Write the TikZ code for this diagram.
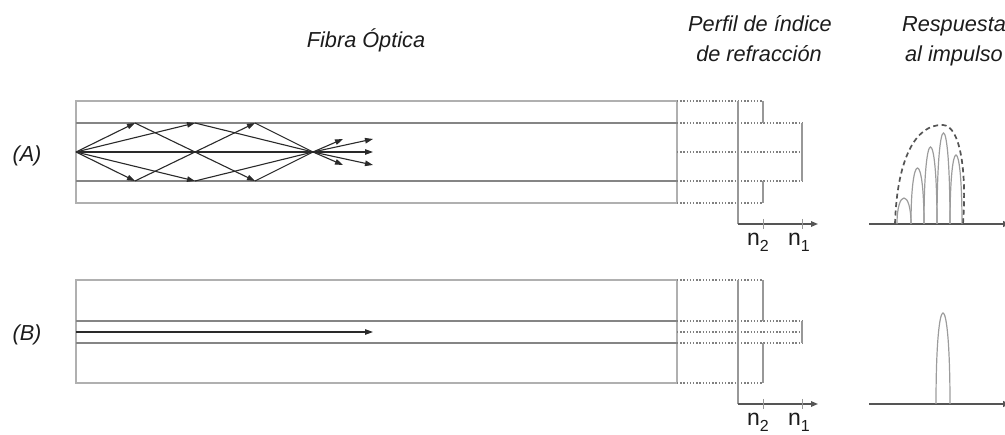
\documentclass[tikz,border=0pt]{standalone}
\usepackage{fontspec}
\setmainfont{Liberation Sans}
\usetikzlibrary{arrows.meta}
\definecolor{cladln}{HTML}{B0B0B0}
\definecolor{coreln}{HTML}{858585}
\definecolor{rayln}{HTML}{2A2A2A}
\definecolor{profln}{HTML}{989898}
\definecolor{dotln}{HTML}{808080}
\definecolor{axisln}{HTML}{555555}
\definecolor{pulseln}{HTML}{9C9C9C}
\definecolor{txt}{HTML}{1C1C1C}
\tikzset{
  clad/.style={draw=cladln, line width=1.3},
  corel/.style={draw=coreln, line width=1.6},
  ray/.style={draw=rayln, line width=1.1},
  rayarr/.style={ray, -{Triangle[length=8pt,width=5.5pt]}},
  dotl/.style={draw=dotln, line width=1.4, dash pattern=on 1.3pt off 1.9pt},
  profl/.style={draw=profln, line width=1.1},
  axisv/.style={draw=profln, line width=1.2},
  axish/.style={draw=axisln, line width=1.4, -{Triangle[length=7pt,width=5.5pt]}},
  tick/.style={draw=profln, line width=1},
  base/.style={draw=axisln, line width=2.1, -{Triangle[length=6pt,width=6pt]}},
  pulse/.style={draw=pulseln, line width=1.2},
  envel/.style={draw=axisln, line width=1.7, dash pattern=on 5pt off 3.5pt},
  title/.style={font=\fontsize{21.7}{26}\selectfont\itshape, text=txt, inner sep=0pt, anchor=base},
  nlab/.style={font=\fontsize{23}{26}\selectfont, text=txt, inner sep=0pt, anchor=base},
}
% n with a lowered subscript, as printed under the index axis
\newcommand{\nsub}[1]{n\raisebox{-0.22em}{\fontsize{16}{16}\selectfont #1}}
% tall narrow pulse: base from #1 to #2 on baseline #3, apex at height #4
\newcommand{\pulsearch}[4]{%
  \pgfmathsetmacro{\ctrly}{#3-4/3*(#3-#4)}%
  \draw[pulse] (#1,#3) .. controls (#1,\ctrly) and (#2,\ctrly) .. (#2,#3);}
\begin{document}
\begin{tikzpicture}[x=1pt,y=-1pt]
\useasboundingbox (0,0) rectangle (1005,435);

% ---------- headings ----------
\node[title] (hfib) at (366,48) {Fibra Óptica};
\node[title] (hper1) at (760,32) {Perfil de índice};
\node[title] (hper2) at (759,62) {de refracción};
\node[title] (hres1) at (954,32) {Respuesta};
\node[title] (hres2) at (954,62) {al impulso};

\node[title] (labA) at (27,162) {(A)};
\node[title] (labB) at (27,341) {(B)};

% ================= (A) multimode step-index fibre =================
\draw[clad] (76,101) rectangle (677,203);
\draw[corel] (76,123) -- (677,123);
\draw[corel] (76,181) -- (677,181);

\coordinate (O) at (76,152);
\coordinate (T1) at (135,123);
\coordinate (T2) at (195,123);
\coordinate (T3) at (255,123);
\coordinate (B1) at (135,181);
\coordinate (B2) at (195,181);
\coordinate (B3) at (255,181);
\coordinate (F) at (313,152);
\coordinate (E0) at (373,152);
\coordinate (E1) at (343,139);
\coordinate (E2) at (373,139);
\coordinate (E3) at (343,165);
\coordinate (E4) at (373,165);

% steep rays
\draw[rayarr] (O) -- (T1);
\draw[rayarr] (T1) -- (B3);
\draw[ray] (B3) -- (F);
\draw[rayarr] (O) -- (B1);
\draw[rayarr] (B1) -- (T3);
\draw[ray] (T3) -- (F);
% shallow rays
\draw[rayarr] (O) -- (T2);
\draw[ray] (T2) -- (F);
\draw[rayarr] (O) -- (B2);
\draw[ray] (B2) -- (F);
% axial ray
\draw[rayarr] (O) -- (E0);
% rays leaving the focus
\draw[rayarr] (F) -- (E1);
\draw[rayarr] (F) -- (E2);
\draw[rayarr] (F) -- (E3);
\draw[rayarr] (F) -- (E4);

% index profile (A)
\draw[dotl] (677,101) -- (762,101);
\draw[dotl] (677,203) -- (762,203);
\draw[dotl] (677,123) -- (802,123);
\draw[dotl] (677,152) -- (802,152);
\draw[dotl] (677,181) -- (802,181);
\draw[profl] (763,101) -- (763,123);
\draw[profl] (763,181) -- (763,203);
\draw[profl] (802,123) -- (802,181);
\coordinate (AxA) at (738,224);
\draw[axisv] (738,101) -- (AxA);
\draw[axish] (AxA) -- (818,224);
\draw[tick] (763,219) -- (763,229);
\draw[tick] (802,219) -- (802,229);
\node[nlab] (n2A) at (758,246) {\nsub{2}};
\node[nlab] (n1A) at (799,246) {\nsub{1}};

% impulse response (A)
\draw[base] (869,224) -- (1009,224);
\pulsearch{897}{911}{224}{198}
\pulsearch{911}{924}{224}{168}
\pulsearch{924}{937}{224}{147}
\pulsearch{937}{950}{224}{133}
\pulsearch{950}{962}{224}{155}
\draw[envel] (895,224) .. controls (897,160) and (915,124) .. (943,125)
  .. controls (960,126) and (967,170) .. (963,224);

% ================= (B) single-mode fibre =================
\draw[clad] (76,280) rectangle (677,383);
\draw[corel] (76,321) -- (677,321);
\draw[corel] (76,343) -- (677,343);
\coordinate (OB) at (76,332);
\coordinate (EB) at (373,332);
\draw[rayarr] (OB) -- (EB);

% index profile (B)
\draw[dotl] (677,280) -- (762,280);
\draw[dotl] (677,383) -- (762,383);
\draw[dotl] (677,321) -- (802,321);
\draw[dotl] (677,332) -- (802,332);
\draw[dotl] (677,343) -- (802,343);
\draw[profl] (763,280) -- (763,321);
\draw[profl] (763,343) -- (763,383);
\draw[profl] (802,321) -- (802,343);
\coordinate (AxB) at (738,404);
\draw[axisv] (738,280) -- (AxB);
\draw[axish] (AxB) -- (818,404);
\draw[tick] (763,399) -- (763,409);
\draw[tick] (802,399) -- (802,409);
\node[nlab] (n2B) at (758,426) {\nsub{2}};
\node[nlab] (n1B) at (799,426) {\nsub{1}};

% impulse response (B)
\draw[base] (869,404) -- (1009,404);
\pulsearch{936}{950}{404}{313}
\end{tikzpicture}
\end{document}
